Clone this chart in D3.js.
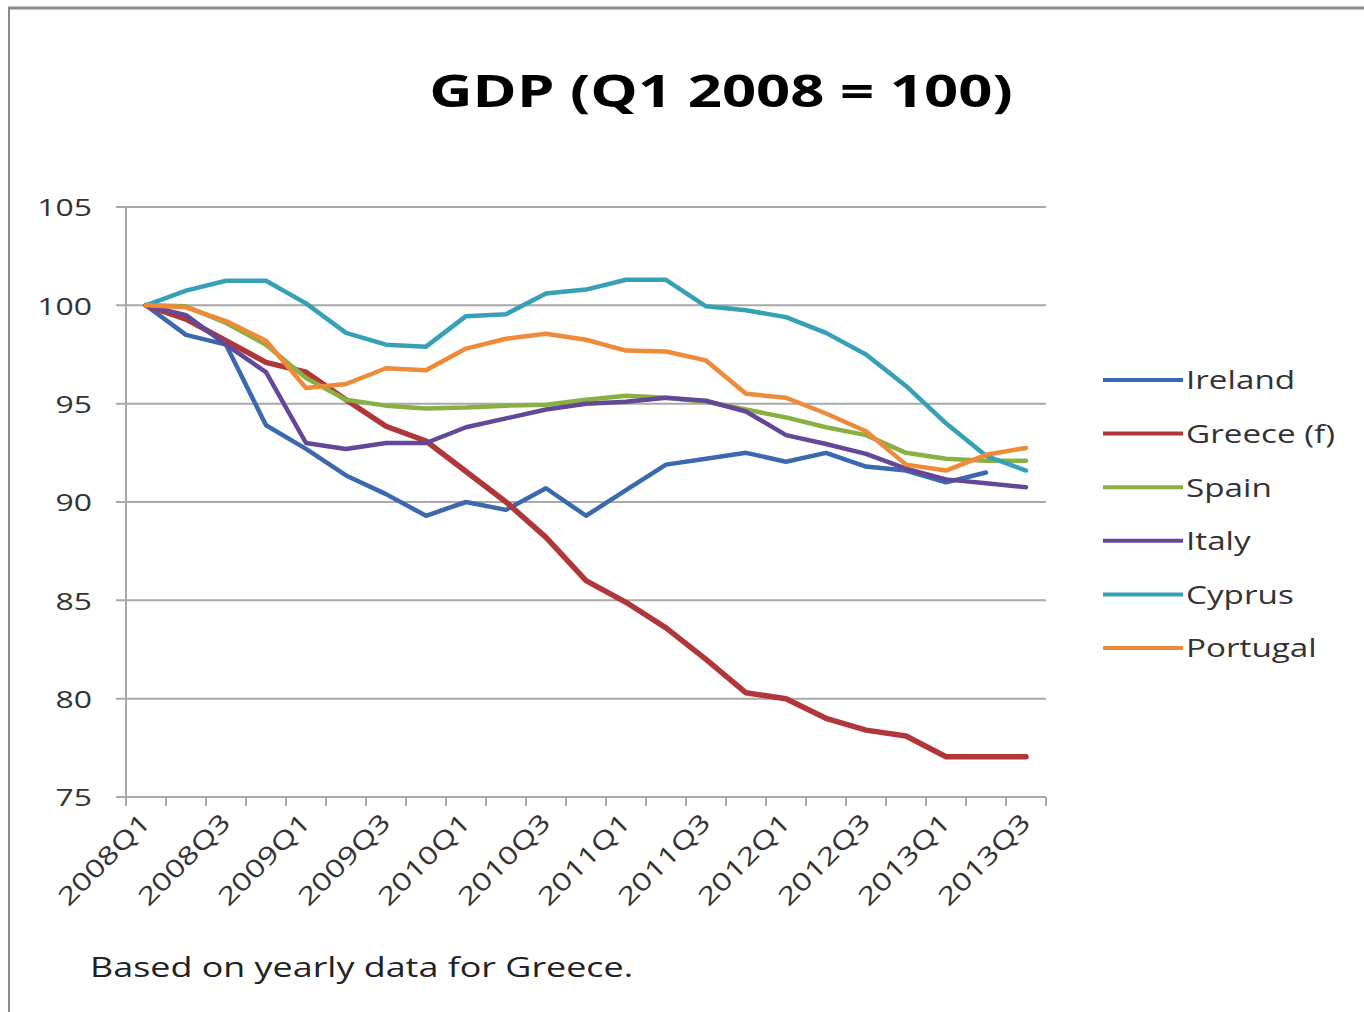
<!DOCTYPE html>
<html>
<head>
<meta charset="utf-8">
<script src="https://cdn.jsdelivr.net/npm/d3@7"></script>
<style>
  html, body { margin: 0; padding: 0; background: #ffffff; }
  svg { display: block; }
  text { font-family: "Open Sans", "Noto Sans", sans-serif; }
</style>
</head>
<body>
<svg id="chart" width="1364" height="1012"></svg>
<script>
// ---------- data ----------
const quarters = ["2008Q1","2008Q2","2008Q3","2008Q4",
                  "2009Q1","2009Q2","2009Q3","2009Q4",
                  "2010Q1","2010Q2","2010Q3","2010Q4",
                  "2011Q1","2011Q2","2011Q3","2011Q4",
                  "2012Q1","2012Q2","2012Q3","2012Q4",
                  "2013Q1","2013Q2","2013Q3"];
const xTickLabels = ["2008Q1","2008Q3","2009Q1","2009Q3","2010Q1","2010Q3",
                     "2011Q1","2011Q3","2012Q1","2012Q3","2013Q1","2013Q3"];
const yTicks = [75, 80, 85, 90, 95, 100, 105];

const seriesNames = ["Ireland", "Greece (f)", "Spain", "Italy", "Cyprus", "Portugal"];
const ireland  = [100, 98.5, 98.0, 93.9, 92.7, 91.35, 90.4, 89.3, 90.0, 89.6, 90.7, 89.3,
                  90.6, 91.9, 92.2, 92.5, 92.05, 92.5, 91.8, 91.6, 91.0, 91.5, null];
const greece   = [100, 99.3, 98.2, 97.1, 96.6, 95.2, 93.85, 93.1, 91.55, 90.0, 88.2, 86.0,
                  84.9, 83.6, 82.0, 80.3, 80.0, 79.0, 78.4, 78.1, 77.05, 77.05, 77.05];
const spain    = [100, 99.95, 99.1, 98.0, 96.3, 95.2, 94.9, 94.75, 94.8, 94.9, 94.95, 95.2,
                  95.4, 95.3, 95.1, 94.7, 94.3, 93.8, 93.4, 92.5, 92.2, 92.1, 92.1];
const italy    = [100, 99.5, 98.0, 96.6, 93.0, 92.7, 93.0, 93.0, 93.8, 94.25, 94.7, 95.0,
                  95.1, 95.3, 95.15, 94.6, 93.4, 92.95, 92.45, 91.7, 91.15, 90.95, 90.75];
const cyprus   = [100, 100.75, 101.25, 101.25, 100.1, 98.6, 98.0, 97.9, 99.45, 99.55, 100.6, 100.8,
                  101.3, 101.3, 99.95, 99.75, 99.4, 98.6, 97.5, 95.9, 94.0, 92.35, 91.6];
const portugal = [100, 99.9, 99.2, 98.2, 95.8, 96.0, 96.8, 96.7, 97.8, 98.3, 98.55, 98.25,
                  97.7, 97.65, 97.2, 95.5, 95.3, 94.5, 93.6, 91.9, 91.6, 92.4, 92.75];
const seriesValues = [ireland, greece, spain, italy, cyprus, portugal];
const seriesColors = ["#3a69ad", "#b0363a", "#88b043", "#624896", "#36a0b6", "#ee8a38"];
const seriesWidths = [4.5, 5.5, 4.5, 4.5, 4.5, 4.5];

const titleText = "GDP (Q1 2008 = 100)";
const noteText = "Based on yearly data for Greece.";

// ---------- layout ----------
const svg = d3.select("#chart");
const plot = { left: 126, right: 1046, top: 207, bottom: 797 };
const S = 1.33; // horizontal stretch of the lettering in the reference

// frame
svg.append("line").attr("x1", 8).attr("x2", 1364).attr("y1", 8).attr("y2", 8)
   .attr("stroke", "#8a8a8a").attr("stroke-width", 3);
svg.append("line").attr("x1", 9).attr("x2", 9).attr("y1", 8).attr("y2", 1012)
   .attr("stroke", "#8a8a8a").attr("stroke-width", 2);

const x = d3.scaleBand().domain(quarters).range([plot.left, plot.right]).padding(0);
const xc = q => x(q) + x.bandwidth() / 2;
const y = d3.scaleLinear().domain([75, 105]).range([plot.bottom, plot.top]);

// gridlines
svg.append("g").selectAll("line").data(yTicks).join("line")
  .attr("x1", plot.left - 10).attr("x2", plot.right)
  .attr("y1", d => y(d)).attr("y2", d => y(d))
  .attr("stroke", "#a9a9a9").attr("stroke-width", 2);

// y axis line
svg.append("line").attr("x1", plot.left).attr("x2", plot.left)
  .attr("y1", plot.top).attr("y2", plot.bottom)
  .attr("stroke", "#a9a9a9").attr("stroke-width", 2);

// y labels
svg.append("g").selectAll("text").data(yTicks).join("text")
  .attr("transform", d => `translate(${plot.left - 34},${y(d)}) scale(${S},1)`)
  .attr("text-anchor", "end").attr("dominant-baseline", "central")
  .attr("font-size", 24).attr("fill", "#333")
  .text(d => d);

// x axis ticks at band boundaries
const boundaries = quarters.map(q => x(q)).concat([plot.right]);
svg.append("g").selectAll("line").data(boundaries).join("line")
  .attr("x1", d => d).attr("x2", d => d)
  .attr("y1", plot.bottom).attr("y2", plot.bottom + 9)
  .attr("stroke", "#a9a9a9").attr("stroke-width", 2);

// x labels
svg.append("g").selectAll("text").data(xTickLabels).join("text")
  .attr("transform", d => `translate(${xc(d) + 6},${plot.bottom + 27}) rotate(-45) scale(1.3,1)`)
  .attr("text-anchor", "end")
  .attr("font-size", 25).attr("fill", "#333")
  .text(d => d);

// lines
const line = d3.line()
  .defined(d => d.v != null)
  .x(d => xc(d.q)).y(d => y(d.v));
seriesNames.forEach((name, i) => {
  const pts = quarters.map((q, j) => ({ q, v: seriesValues[i][j] }));
  svg.append("path").datum(pts)
    .attr("d", line)
    .attr("fill", "none")
    .attr("stroke", seriesColors[i])
    .attr("stroke-width", seriesWidths[i])
    .attr("stroke-linejoin", "round")
    .attr("stroke-linecap", "round");
});

// legend
const lg = svg.append("g");
seriesNames.forEach((name, i) => {
  const ly = 380 + i * 53.6;
  lg.append("line").attr("x1", 1103).attr("x2", 1183).attr("y1", ly).attr("y2", ly)
    .attr("stroke", seriesColors[i]).attr("stroke-width", 4);
  lg.append("text")
    .attr("transform", `translate(1186,${ly}) scale(${S},1)`)
    .attr("dominant-baseline", "central")
    .attr("font-size", 25).attr("fill", "#333")
    .text(name);
});

// title
svg.append("text")
  .attr("transform", `translate(721,107) scale(${S},1)`)
  .attr("text-anchor", "middle")
  .attr("font-size", 45).attr("font-weight", "bold").attr("fill", "#000")
  .text(titleText);

// note
svg.append("text")
  .attr("transform", `translate(90,977) scale(${S},1)`)
  .attr("font-size", 27).attr("fill", "#222")
  .text(noteText);
</script>
</body>
</html>
